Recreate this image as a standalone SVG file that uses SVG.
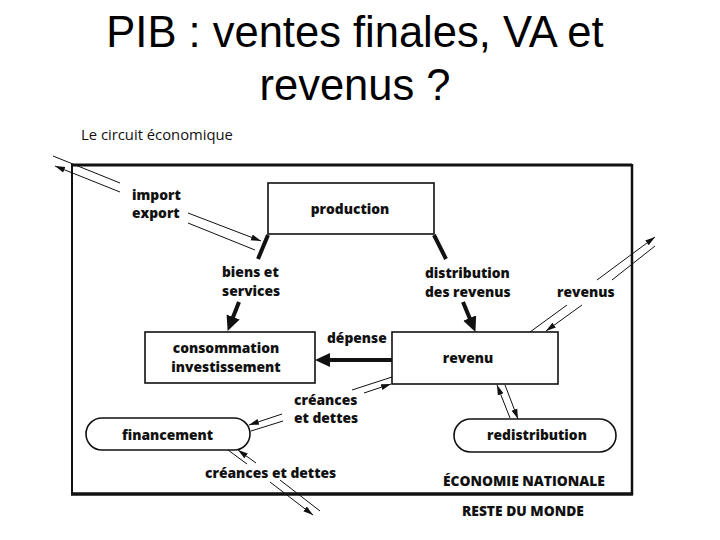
<svg xmlns="http://www.w3.org/2000/svg" width="720" height="540" viewBox="0 0 720 540">
<style>
.title{font-family:"Liberation Sans",Arial,sans-serif;font-size:43.5px;fill:#000;text-anchor:middle}
.lbl{font-family:"Open Sans","DejaVu Sans",sans-serif;font-weight:800;font-size:13.8px;fill:#111}
.sub{font-family:"Open Sans","DejaVu Sans",sans-serif;font-size:14.8px;fill:#111}
.mid{text-anchor:middle}
.box{fill:#fff;stroke:#111;stroke-width:1.6}
.thin{stroke:#111;stroke-width:1;fill:none}
.thick{stroke:#111;stroke-width:4;fill:none}
.border{stroke:#111;fill:none}
</style>
<defs>
<marker id="ah" markerUnits="userSpaceOnUse" markerWidth="11" markerHeight="8" refX="10" refY="3.5" orient="auto">
<path d="M0,0.5 L10,3.5 L0,6.5 z" fill="#111"/>
</marker>
<marker id="bh" markerUnits="userSpaceOnUse" markerWidth="17" markerHeight="15" refX="5" refY="7" orient="auto">
<path d="M0,0 L15,7 L0,14 z" fill="#111"/>
</marker>
</defs>
<rect width="720" height="540" fill="#fff"/>
<text class="title" x="355" y="47">PIB : ventes finales, VA et</text>
<text class="title" x="355" y="100">revenus ?</text>
<text class="sub" x="81" y="140">Le circuit économique</text>

<g id="economie-nationale">
<line class="border" x1="72" y1="165" x2="632" y2="165" stroke-width="3"/>
<line class="border" x1="72" y1="164" x2="72" y2="495" stroke-width="2"/>
<line class="border" x1="632" y1="164" x2="632" y2="495" stroke-width="2.5"/>
<line class="border" x1="71" y1="494" x2="633" y2="494" stroke-width="3.5"/>
<text class="lbl" x="443" y="486">ÉCONOMIE NATIONALE</text>
</g>
<g id="reste-du-monde">
<text class="lbl" x="462" y="516">RESTE  DU MONDE</text>
</g>

<g id="production">
<rect class="box" x="268" y="183" width="166" height="51" stroke-width="2"/>
<text class="lbl mid" x="350" y="214">production</text>
</g>
<g id="consommation">
<rect class="box" x="145" y="332" width="170" height="51"/>
<text class="lbl mid" x="226" y="353">consommation</text>
<text class="lbl mid" x="226" y="372">investissement</text>
</g>
<g id="revenu">
<rect class="box" x="392" y="332" width="166" height="52"/>
<text class="lbl mid" x="468" y="363">revenu</text>
</g>
<g id="financement">
<rect class="box" x="86" y="418" width="164" height="32" rx="16" ry="16"/>
<text class="lbl" x="122" y="440">financement</text>
</g>
<g id="redistribution">
<rect class="box" x="454" y="419" width="162" height="33" rx="16.5" ry="16.5"/>
<text class="lbl mid" x="537" y="440">redistribution</text>
</g>

<g id="connectors">
<!-- production legs and thick flows -->
<line class="thick" x1="268" y1="235" x2="258" y2="259"/>
<line class="thick" x1="239" y1="302" x2="231.3" y2="321.6" marker-end="url(#bh)"/>
<line class="thick" x1="434" y1="235" x2="446" y2="259"/>
<line class="thick" x1="463" y1="302" x2="471.6" y2="322.7" marker-end="url(#bh)"/>
<line class="thick" x1="392" y1="360" x2="325" y2="360" marker-end="url(#bh)"/>
<!-- import / export -->
<line class="thin" x1="53" y1="156" x2="120" y2="183"/>
<line class="thin" x1="120" y1="192" x2="55" y2="166" marker-end="url(#ah)"/>
<line class="thin" x1="188" y1="213" x2="261" y2="241" marker-end="url(#ah)"/>
<line class="thin" x1="188" y1="223" x2="255" y2="250"/>
<!-- revenus (reste du monde) -->
<line class="thin" x1="597" y1="280" x2="655" y2="237" marker-end="url(#ah)"/>
<line class="thin" x1="612" y1="280" x2="655" y2="246"/>
<line class="thin" x1="567" y1="305" x2="530" y2="332"/>
<line class="thin" x1="582" y1="305" x2="546" y2="331" marker-end="url(#ah)"/>
<!-- créances et dettes : revenu / financement -->
<line class="thin" x1="352" y1="390" x2="392" y2="377"/>
<line class="thin" x1="364" y1="393" x2="391" y2="384" marker-end="url(#ah)"/>
<line class="thin" x1="282" y1="414" x2="249" y2="425" marker-end="url(#ah)"/>
<line class="thin" x1="283" y1="421" x2="251" y2="431"/>
<!-- créances et dettes : financement / reste du monde -->
<line class="thin" x1="228" y1="450" x2="247" y2="464"/>
<line class="thin" x1="256" y1="463" x2="238" y2="450" marker-end="url(#ah)"/>
<line class="thin" x1="270" y1="482" x2="313" y2="515" marker-end="url(#ah)"/>
<line class="thin" x1="280" y1="480" x2="320" y2="511"/>
<!-- revenu / redistribution -->
<line class="thin" x1="510" y1="418" x2="497" y2="385" marker-end="url(#ah)"/>
<line class="thin" x1="505" y1="385" x2="518" y2="419" marker-end="url(#ah)"/>
</g>

<g id="labels">
<text class="lbl" x="132" y="200">import</text>
<text class="lbl" x="132" y="218">export</text>
<text class="lbl" x="222" y="277">biens et</text>
<text class="lbl" x="222" y="296">services</text>
<text class="lbl" x="425" y="278">distribution</text>
<text class="lbl" x="425" y="297">des revenus</text>
<text class="lbl" x="557" y="297">revenus</text>
<text class="lbl" x="327" y="343">dépense</text>
<text class="lbl" x="294" y="405">créances</text>
<text class="lbl" x="294" y="423">et  dettes</text>
<text class="lbl" x="205" y="478">créances et dettes</text>
</g>
</svg>
